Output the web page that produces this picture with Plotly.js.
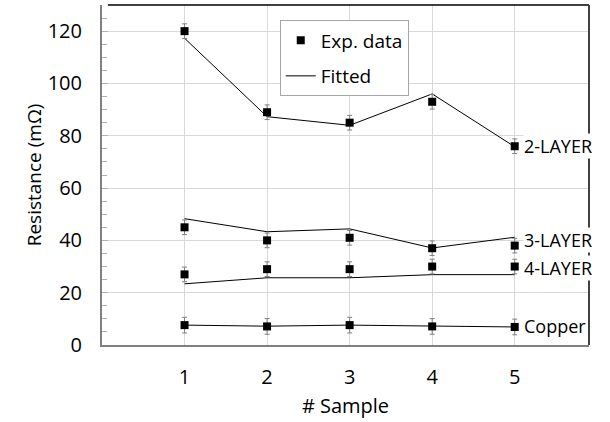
<!DOCTYPE html>
<html>
<head>
<meta charset="utf-8">
<script src="https://cdn.plot.ly/plotly-3.0.1.min.js"></script>
<style>html,body{margin:0;padding:0;background:#fff;}#chart{width:610px;height:422px;}</style>
</head>
<body>
<div id="chart"></div>
<script>
const samples = [1, 2, 3, 4, 5];
const seriesNames = ["2-LAYER", "3-LAYER", "4-LAYER", "Copper"];
const exp2 = [120, 89, 85, 93, 76];
const fit2 = [117.3, 87.3, 84, 96, 75.8];
const exp3 = [45, 40, 41, 37, 38];
const fit3 = [48.3, 43.3, 44.4, 37.1, 41.2];
const exp4 = [27, 29, 29, 30, 30];
const fit4 = [23.4, 25.7, 25.7, 26.9, 26.9];
const expCu = [7.6, 7.1, 7.6, 7.1, 6.9];
const fitCu = [7.6, 7.2, 7.6, 7.2, 6.9];
const err2 = [2.8, 2.8, 2.8, 2.8, 2.8];
const err3 = [2.8, 2.8, 2.8, 2.8, 2.8];
const err4 = [2.8, 2.8, 2.8, 2.8, 2.8];
const errCu = [3, 3, 3, 3, 3];
const labelY = [76, 40, 29.4, 7.3];
const yTicks = [0, 20, 40, 60, 80, 100, 120];

const FONT = "Open Sans, Liberation Sans, sans-serif";
const expSets = [exp2, exp3, exp4, expCu];
const fitSets = [fit2, fit3, fit4, fitCu];
const errSets = [err2, err3, err4, errCu];

const traces = [];
fitSets.forEach((f, i) => {
  traces.push({
    x: samples, y: f, type: 'scatter', mode: 'lines',
    line: {color: '#000', width: 1},
    name: 'Fitted', legendgroup: 'fit', showlegend: i === 0, legendrank: 2
  });
});
expSets.forEach((e, i) => {
  traces.push({
    x: samples, y: e, type: 'scatter', mode: 'markers',
    marker: {symbol: 'square', size: 8, color: '#000'},
    error_y: {type: 'data', array: errSets[i], visible: true, color: '#808080', thickness: 1, width: 2.5},
    name: 'Exp. data', legendgroup: 'exp', showlegend: i === 0, legendrank: 1
  });
});

const annotations = seriesNames.map((n, i) => ({
  x: 5, y: labelY[i], xref: 'x', yref: 'y', text: n, showarrow: false,
  xanchor: 'left', xshift: 8, font: {family: FONT, size: 18, color: '#000'},
  bgcolor: '#fff', borderpad: 0
}));

const layout = {
  width: 610, height: 422,
  margin: {l: 102, r: 21, t: 5, b: 77},
  paper_bgcolor: '#fff', plot_bgcolor: '#fff',
  font: {family: FONT, size: 20, color: '#000'},
  showlegend: true,
  legend: {
    x: 0.365, y: 0.955, xanchor: 'left', yanchor: 'top',
    bgcolor: '#fff', bordercolor: '#a6a6a6', borderwidth: 1,
    font: {family: FONT, size: 19, color: '#000'},
    itemwidth: 30, tracegroupgap: 8, traceorder: 'grouped'
  },
  xaxis: {
    range: [0, 5.9], tickvals: samples, ticktext: samples.map(String),
    showgrid: true, gridcolor: '#d9d9d9', gridwidth: 1,
    showline: true, linecolor: '#808080', linewidth: 2,
    zeroline: false, ticks: '', ticklabelstandoff: 13,
    tickfont: {family: FONT, size: 20},
    title: {text: '# Sample', font: {family: FONT, size: 20}, standoff: 10}
  },
  yaxis: {
    range: [0, 130], tickvals: yTicks,
    showgrid: true, gridcolor: '#d9d9d9', gridwidth: 1,
    showline: true, linecolor: '#808080', linewidth: 2,
    zeroline: false, ticks: 'inside', ticklen: 6, tickcolor: '#b0b0b0',
    minor: {dtick: 5, ticks: 'inside', ticklen: 5, tickcolor: '#b0b0b0', showgrid: false},
    ticklabelstandoff: 14,
    tickfont: {family: FONT, size: 20},
    title: {text: 'Resistance (mΩ)', font: {family: FONT, size: 19}, standoff: 1}
  },
  shapes: [
    {type: 'line', xref: 'paper', yref: 'paper', x0: 0.012, x1: 1, y0: 1, y1: 1, line: {color: '#000', width: 1.5}},
    {type: 'line', xref: 'paper', yref: 'paper', x0: 1, x1: 1, y0: 0, y1: 1, line: {color: '#404040', width: 2}}
  ],
  annotations: annotations
};

Plotly.newPlot('chart', traces, layout, {displayModeBar: false, staticPlot: true});
</script>
</body>
</html>
